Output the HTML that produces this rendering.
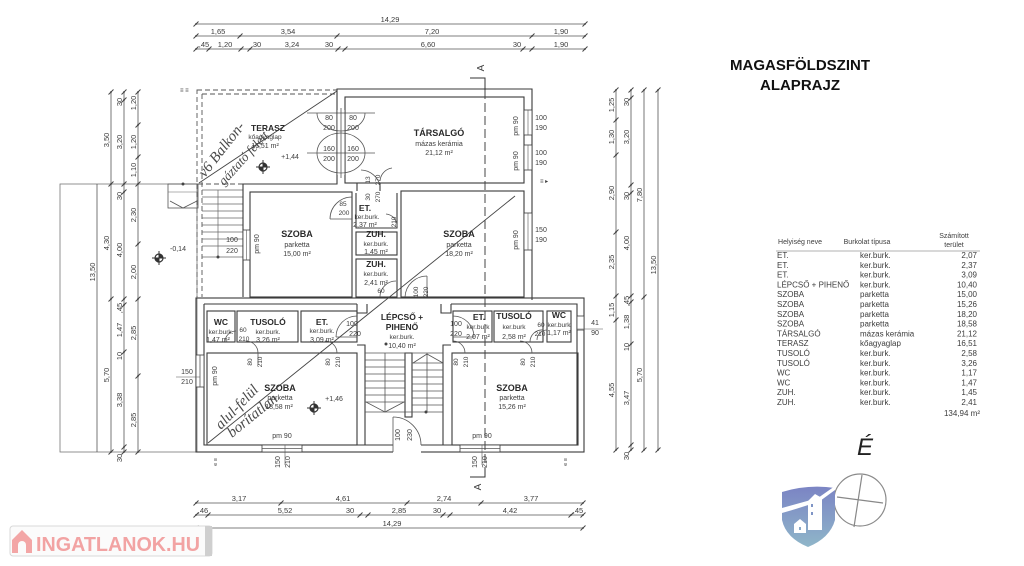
<!DOCTYPE html>
<html><head><meta charset="utf-8">
<style>
html,body{margin:0;padding:0;background:#fff;}
svg{display:block}
text{font-family:"Liberation Sans",sans-serif;fill:#3c3c3c}
.b{font-weight:bold;fill:#2a2a2a}
.w{fill:none;stroke:#3a3a3a;stroke-width:1.1}
.d{fill:none;stroke:#555;stroke-width:0.8}
.hw{font-family:"Liberation Serif",serif;font-style:italic;fill:#4a4a4a}
</style></head><body>
<svg width="1024" height="566" viewBox="0 0 1024 566" xmlns="http://www.w3.org/2000/svg">
<defs>
<g id="k"><path d="M-2.5,2.5 L2.5,-2.5" stroke="#444" stroke-width="1"/><circle r="0.9" fill="#444"/></g>
<g id="el"><circle r="4" fill="none" stroke="#333" stroke-width="1.2"/><path d="M-7,0H7M0,-7V7" stroke="#333" stroke-width="1"/><path d="M0,0V-4A4,4 0 0 1 4,0Z M0,0V4A4,4 0 0 1 -4,0Z" fill="#333"/></g>
<linearGradient id="sg" x1="0" y1="0" x2="0" y2="1"><stop offset="0" stop-color="#7b84c4"/><stop offset="1" stop-color="#8fb6c9"/></linearGradient>
</defs>

<!-- TOP DIMENSIONS -->
<g stroke="#555" stroke-width="0.8">
<line x1="196" y1="24" x2="585" y2="24"/>
<line x1="196" y1="36" x2="585" y2="36"/>
<line x1="196" y1="49" x2="585" y2="49"/>
</g>
<use href="#k" x="196" y="24"/><use href="#k" x="585" y="24"/>
<use href="#k" x="196" y="36"/><use href="#k" x="240" y="36"/><use href="#k" x="337" y="36"/><use href="#k" x="532" y="36"/><use href="#k" x="585" y="36"/>
<use href="#k" x="196" y="49"/><use href="#k" x="209" y="49"/><use href="#k" x="241" y="49"/><use href="#k" x="250" y="49"/><use href="#k" x="338" y="49"/><use href="#k" x="345" y="49"/><use href="#k" x="523" y="49"/><use href="#k" x="532" y="49"/><use href="#k" x="585" y="49"/>
<g font-size="7.5" text-anchor="middle">
<text x="390" y="22">14,29</text>
<text x="218" y="34">1,65</text><text x="288" y="34">3,54</text><text x="432" y="34">7,20</text><text x="561" y="34">1,90</text>
<text x="204" y="47">,45</text><text x="225" y="47">1,20</text><text x="257" y="47">30</text><text x="292" y="47">3,24</text><text x="329" y="47">30</text><text x="428" y="47">6,60</text><text x="517" y="47">30</text><text x="561" y="47">1,90</text>
</g>

<!-- LEFT DIMENSIONS -->
<g stroke="#555" stroke-width="0.8">
<rect x="60" y="184" width="137" height="268" fill="none" stroke="#777"/>
<line x1="97" y1="184" x2="97" y2="452"/>
<line x1="111" y1="92" x2="111" y2="452"/>
<line x1="124" y1="92" x2="124" y2="452"/>
<line x1="138" y1="92" x2="138" y2="452"/>
</g>
<use href="#k" x="111" y="92"/><use href="#k" x="111" y="184"/><use href="#k" x="111" y="299"/><use href="#k" x="111" y="452"/>
<use href="#k" x="124" y="92"/><use href="#k" x="124" y="100"/><use href="#k" x="124" y="184"/><use href="#k" x="124" y="192"/><use href="#k" x="124" y="299"/><use href="#k" x="124" y="305"/><use href="#k" x="124" y="352"/><use href="#k" x="124" y="447"/><use href="#k" x="124" y="452"/>
<use href="#k" x="138" y="92"/><use href="#k" x="138" y="125"/><use href="#k" x="138" y="157"/><use href="#k" x="138" y="184"/><use href="#k" x="138" y="244"/><use href="#k" x="138" y="299"/><use href="#k" x="138" y="376"/><use href="#k" x="138" y="452"/>
<g font-size="7.5" text-anchor="middle">
<text transform="translate(95,272) rotate(-90)" fill="#666">13,50</text>
<text transform="translate(109,140) rotate(-90)">3,50</text>
<text transform="translate(109,243) rotate(-90)">4,30</text>
<text transform="translate(109,375) rotate(-90)">5,70</text>
<text transform="translate(122,102) rotate(-90)">30</text>
<text transform="translate(122,142) rotate(-90)">3,20</text>
<text transform="translate(122,196) rotate(-90)">30</text>
<text transform="translate(122,250) rotate(-90)">4,00</text>
<text transform="translate(122,308) rotate(-90)">,45</text>
<text transform="translate(122,330) rotate(-90)">1,47</text>
<text transform="translate(122,356) rotate(-90)">10</text>
<text transform="translate(122,400) rotate(-90)">3,38</text>
<text transform="translate(122,458) rotate(-90)">30</text>
<text transform="translate(136,103) rotate(-90)" fill="#777">1,20</text>
<text transform="translate(136,142) rotate(-90)" fill="#777">1,20</text>
<text transform="translate(136,170) rotate(-90)" fill="#888">1,10</text>
<text transform="translate(136,215) rotate(-90)" fill="#888">2,30</text>
<text transform="translate(136,272) rotate(-90)" fill="#888">2,00</text>
<text transform="translate(136,333) rotate(-90)">2,85</text>
<text transform="translate(136,420) rotate(-90)">2,85</text>
</g>

<!-- RIGHT DIMENSIONS -->
<g stroke="#555" stroke-width="0.8">
<line x1="616" y1="90" x2="616" y2="450"/>
<line x1="631" y1="90" x2="631" y2="450"/>
<line x1="644" y1="90" x2="644" y2="450"/>
<line x1="658" y1="90" x2="658" y2="450"/>
</g>
<use href="#k" x="616" y="90"/><use href="#k" x="616" y="120"/><use href="#k" x="616" y="155"/><use href="#k" x="616" y="232"/><use href="#k" x="616" y="296"/><use href="#k" x="616" y="320"/><use href="#k" x="616" y="450"/>
<use href="#k" x="631" y="90"/><use href="#k" x="631" y="98"/><use href="#k" x="631" y="185"/><use href="#k" x="631" y="193"/><use href="#k" x="631" y="296"/><use href="#k" x="631" y="302"/><use href="#k" x="631" y="344"/><use href="#k" x="631" y="445"/><use href="#k" x="631" y="450"/>
<use href="#k" x="644" y="90"/><use href="#k" x="644" y="297"/><use href="#k" x="644" y="450"/>
<use href="#k" x="658" y="90"/><use href="#k" x="658" y="450"/>
<g font-size="7.5" text-anchor="middle">
<text transform="translate(614,105) rotate(-90)" fill="#777">1,25</text>
<text transform="translate(614,137) rotate(-90)" fill="#777">1,30</text>
<text transform="translate(614,193) rotate(-90)" fill="#777">2,90</text>
<text transform="translate(614,262) rotate(-90)" fill="#777">2,35</text>
<text transform="translate(614,310) rotate(-90)">1,15</text>
<text transform="translate(614,390) rotate(-90)">4,55</text>
<text transform="translate(629,102) rotate(-90)">30</text>
<text transform="translate(629,137) rotate(-90)" fill="#777">3,20</text>
<text transform="translate(629,196) rotate(-90)">30</text>
<text transform="translate(629,243) rotate(-90)">4,00</text>
<text transform="translate(629,301) rotate(-90)">,45</text>
<text transform="translate(629,322) rotate(-90)">1,38</text>
<text transform="translate(629,347) rotate(-90)">10</text>
<text transform="translate(629,398) rotate(-90)">3,47</text>
<text transform="translate(629,456) rotate(-90)">30</text>
<text transform="translate(642,195) rotate(-90)">7,80</text>
<text transform="translate(642,375) rotate(-90)">5,70</text>
<text transform="translate(656,265) rotate(-90)">13,50</text>
</g>

<!-- BOTTOM DIMENSIONS -->
<g stroke="#555" stroke-width="0.8">
<line x1="196" y1="503" x2="583" y2="503"/>
<line x1="196" y1="515" x2="583" y2="515"/>
<line x1="196" y1="528" x2="583" y2="528"/>
</g>
<use href="#k" x="196" y="503"/><use href="#k" x="281" y="503"/><use href="#k" x="407" y="503"/><use href="#k" x="481" y="503"/><use href="#k" x="583" y="503"/>
<use href="#k" x="196" y="515"/><use href="#k" x="208" y="515"/><use href="#k" x="360" y="515"/><use href="#k" x="368" y="515"/><use href="#k" x="443" y="515"/><use href="#k" x="450" y="515"/><use href="#k" x="571" y="515"/><use href="#k" x="583" y="515"/>
<use href="#k" x="196" y="528"/><use href="#k" x="583" y="528"/>
<g font-size="7.5" text-anchor="middle">
<text x="239" y="501">3,17</text><text x="343" y="501">4,61</text><text x="444" y="501">2,74</text><text x="531" y="501">3,77</text>
<text x="203" y="513">,46</text><text x="285" y="513">5,52</text><text x="350" y="513">30</text><text x="399" y="513">2,85</text><text x="437" y="513">30</text><text x="510" y="513">4,42</text><text x="578" y="513">,45</text>
<text x="392" y="526">14,29</text>
</g>

<!-- TERRACE -->
<rect x="197" y="90" width="140" height="94" fill="none" stroke="#555" stroke-width="0.9" stroke-dasharray="5,3"/>
<line x1="202" y1="94" x2="202" y2="297" stroke="#555" stroke-width="0.9" stroke-dasharray="5,3"/>
<line x1="197" y1="184" x2="197" y2="297" stroke="#555" stroke-width="0.9" stroke-dasharray="5,3"/>
<line x1="202" y1="94" x2="337" y2="94" stroke="#555" stroke-width="0.9" stroke-dasharray="5,3"/>
<text x="180" y="92" font-size="6">≡ ≡</text>
<!-- terrace stair treads -->
<g stroke="#666" stroke-width="0.7">
<line x1="202" y1="190" x2="243" y2="190"/><line x1="202" y1="197" x2="243" y2="197"/><line x1="202" y1="204" x2="243" y2="204"/><line x1="202" y1="211" x2="243" y2="211"/><line x1="202" y1="218" x2="243" y2="218"/><line x1="202" y1="225" x2="243" y2="225"/><line x1="202" y1="232" x2="243" y2="232"/><line x1="202" y1="239" x2="243" y2="239"/><line x1="202" y1="246" x2="243" y2="246"/>
<line x1="202" y1="257" x2="243" y2="257"/>
<line x1="218" y1="190" x2="218" y2="257"/>
</g>
<circle cx="218" cy="257" r="1.5" fill="#444"/>
<!-- outside stair -->
<rect x="168" y="184" width="30" height="24" fill="none" stroke="#555" stroke-width="0.8"/>
<path d="M170,201 L183,208 L197,201" class="d"/>
<circle cx="183" cy="184" r="1.5" fill="#444"/>
<line x1="168" y1="192" x2="198" y2="192" stroke="#666" stroke-width="0.6"/>

<!-- UPPER WALLS -->
<path d="M243,297 V184 H337 V89 H532 V300" class="w"/>
<rect x="345" y="97" width="179" height="86" class="w"/>
<rect x="250" y="192" width="102" height="105" class="w"/>
<rect x="401" y="191" width="123" height="106" class="w"/>
<path d="M357,183 V191 M380,183 V191" class="w"/>
<path d="M356,193 V228 H397 V193" class="w"/>
<rect x="356" y="232" width="41" height="23" class="w"/>
<rect x="356" y="259" width="41" height="38" class="w"/>
<!-- windows upper -->
<g fill="#fff" stroke="#3a3a3a" stroke-width="0.8">
<rect x="524" y="110" width="8" height="25"/><rect x="524" y="145" width="8" height="25"/>
<rect x="524" y="213" width="8" height="37"/>
<rect x="243" y="230" width="7" height="30"/>
</g>
<g stroke="#555" stroke-width="0.6"><line x1="528" y1="110" x2="528" y2="135"/><line x1="528" y1="145" x2="528" y2="170"/><line x1="528" y1="213" x2="528" y2="250"/><line x1="246.5" y1="230" x2="246.5" y2="260"/></g>
<text x="540" y="183" font-size="6">≡ ▸</text>

<!-- terrace doors -->
<rect x="337" y="110" width="8" height="65" fill="#fff"/>
<g class="d">
<line x1="307" y1="113" x2="375" y2="113"/>
<line x1="307" y1="153" x2="375" y2="153"/>
<path d="M317,113 A24,18 0 0 0 365,113"/>
<path d="M317,153 A24,20 0 0 1 365,153"/>
<path d="M317,153 A24,20 0 0 0 365,153"/>
<line x1="341" y1="108" x2="341" y2="178"/>
<path d="M337,110 V175 M345,110 V175" stroke="#3a3a3a"/>
</g>
<g font-size="7" text-anchor="middle">
<text x="329" y="120">80</text><text x="353" y="120">80</text>
<text x="329" y="130">200</text><text x="353" y="130">200</text>
<text x="329" y="151">160</text><text x="353" y="151">160</text>
<text x="329" y="161">200</text><text x="353" y="161">200</text>
</g>
<!-- small upper doors -->
<g class="d">
<path d="M361,170 A20,20 0 0 1 380,186"/>
<path d="M392,168 A14,14 0 0 0 380,181"/>
<path d="M330,219 A22,22 0 0 1 352,197"/><line x1="330" y1="219" x2="352" y2="219"/>
<path d="M386,214 A12,12 0 0 1 397,226"/>
<path d="M405,297 A22,22 0 0 1 427,276"/><line x1="427" y1="276" x2="427" y2="297"/>
<path d="M380,297 A16,16 0 0 1 396,281"/>
</g>
<g font-size="6.5" text-anchor="middle">
<text transform="translate(370,180) rotate(-90)">13</text><text transform="translate(380,180) rotate(-90)">270</text>
<text transform="translate(370,197) rotate(-90)">30</text><text transform="translate(380,197) rotate(-90)">270</text>
<text x="343" y="206">85</text><text x="344" y="215" fill="#666">200</text>
<text transform="translate(396,222) rotate(-90)">210</text>
<text transform="translate(418,292) rotate(-90)">100</text><text transform="translate(428,292) rotate(-90)">220</text>
<text x="381" y="293" fill="#555">60</text>
</g>

<!-- LOWER BLOCK -->
<rect x="196" y="298" width="388" height="154" class="w"/>
<path d="M204,304 H357 M451,304 H577 V445 H204 V304" class="w"/>
<path d="M357,304 V313 H367 V304 M441,304 V313 H451 V304" class="w"/>
<rect x="207" y="311" width="28" height="31" class="w"/>
<rect x="237" y="311" width="61" height="31" class="w"/>
<rect x="301" y="311" width="56" height="31" class="w"/>
<rect x="453" y="311" width="39" height="31" class="w"/>
<rect x="494" y="311" width="49" height="31" class="w"/>
<rect x="547" y="311" width="24" height="31" class="w"/>
<rect x="207" y="353" width="150" height="92" class="w"/>
<rect x="452" y="353" width="126" height="92" class="w"/>
<path d="M357,345 H365 V445 M451,345 H443 V445" class="w"/>
<rect x="405" y="353" width="7" height="64" class="w"/>
<!-- stairs -->
<g stroke="#555" stroke-width="0.8">
<line x1="365" y1="353" x2="443" y2="353"/>
<line x1="365" y1="360" x2="405" y2="360"/><line x1="365" y1="367" x2="405" y2="367"/><line x1="365" y1="374" x2="405" y2="374"/><line x1="365" y1="381" x2="405" y2="381"/><line x1="365" y1="388" x2="405" y2="388"/><line x1="365" y1="395" x2="405" y2="395"/><line x1="365" y1="402" x2="405" y2="402"/>
<line x1="412" y1="363" x2="443" y2="363"/><line x1="412" y1="370" x2="443" y2="370"/><line x1="412" y1="377" x2="443" y2="377"/><line x1="412" y1="384" x2="443" y2="384"/><line x1="412" y1="391" x2="443" y2="391"/><line x1="412" y1="398" x2="443" y2="398"/><line x1="412" y1="405" x2="443" y2="405"/>
<line x1="365" y1="412" x2="443" y2="412"/>
<line x1="385" y1="353" x2="385" y2="412"/><line x1="427" y1="353" x2="427" y2="412"/>
</g>
<path d="M366,402 L385,412 L404,402" class="d"/>
<path d="M413,363 L427,354 L443,363" class="d"/>
<circle cx="386" cy="344" r="1.5" fill="#444"/><circle cx="426" cy="412" r="1.5" fill="#444"/>
<!-- windows/doors lower -->
<g fill="#fff" stroke="#3a3a3a" stroke-width="0.8">
<rect x="262" y="445" width="40" height="7"/><rect x="460" y="445" width="40" height="7"/>
<rect x="196" y="355" width="8" height="32"/>
<rect x="577" y="316" width="7" height="14"/>
</g>
<rect x="393" y="444" width="28" height="9" fill="#fff"/>
<g class="d">
<line x1="262" y1="448.5" x2="302" y2="448.5"/><line x1="460" y1="448.5" x2="500" y2="448.5"/>
<line x1="200" y1="355" x2="200" y2="387"/>
<line x1="393" y1="417" x2="393" y2="452"/><path d="M393,417 A28,28 0 0 1 421,445"/>
<path d="M357,316 A21,21 0 0 0 336,337"/><line x1="336" y1="337" x2="357" y2="337"/>
<path d="M453,316 A21,21 0 0 1 474,337"/><line x1="453" y1="337" x2="474" y2="337"/>
<path d="M225,342 A11,11 0 0 1 236,331"/>
<path d="M530,342 A12,12 0 0 1 543,330"/>
<path d="M547,330 A10,10 0 0 0 537,340"/>
<path d="M258,353 A12,12 0 0 0 246,341"/><path d="M258,353 V365"/>
<path d="M337,353 A12,12 0 0 0 325,341"/>
<path d="M465,353 A12,12 0 0 0 453,341"/>
<path d="M532,353 A12,12 0 0 0 520,341"/>
</g>
<g font-size="6.5" text-anchor="middle" fill="#555">
<text x="243" y="332">60</text><text x="244" y="341">210</text>
<text x="541" y="327">60</text><text x="540" y="336">210</text>
<text transform="translate(252,362) rotate(-90)">80</text><text transform="translate(262,362) rotate(-90)">210</text>
<text transform="translate(330,362) rotate(-90)">80</text><text transform="translate(340,362) rotate(-90)">210</text>
<text transform="translate(458,362) rotate(-90)">80</text><text transform="translate(468,362) rotate(-90)">210</text>
<text transform="translate(525,362) rotate(-90)">80</text><text transform="translate(535,362) rotate(-90)">210</text>
</g>

<!-- section line A -->
<path d="M470,78 H485 V90" stroke="#333" stroke-width="1" fill="none"/>
<line x1="485" y1="90" x2="485" y2="470" stroke="#444" stroke-width="1" stroke-dasharray="9,4"/>
<path d="M470,477 H485 V468" stroke="#333" stroke-width="1" fill="none"/>
<text transform="translate(484,68) rotate(-90)" font-size="10" text-anchor="middle">A</text>
<text transform="translate(481,487) rotate(-90)" font-size="10" text-anchor="middle">A</text>

<!-- diagonal cross-out lines -->
<line x1="199" y1="183" x2="337" y2="91" stroke="#444" stroke-width="0.9"/>
<line x1="208" y1="443" x2="515" y2="196" stroke="#444" stroke-width="0.9"/>

<!-- ROOM LABELS -->
<g text-anchor="middle">
<text x="268" y="131" font-size="8.5" class="b">TERASZ</text>
<text x="265" y="139" font-size="6.5">kőagyaglap</text>
<text x="265" y="148" font-size="7">16,51 m²</text>
<text x="439" y="136" font-size="9" class="b">TÁRSALGÓ</text>
<text x="439" y="146" font-size="7">mázas kerámia</text>
<text x="439" y="155" font-size="7">21,12 m²</text>
<text x="297" y="237" font-size="9" class="b">SZOBA</text>
<text x="297" y="247" font-size="7">parketta</text>
<text x="297" y="256" font-size="7">15,00 m²</text>
<text x="459" y="237" font-size="9" class="b">SZOBA</text>
<text x="459" y="247" font-size="7">parketta</text>
<text x="459" y="256" font-size="7">18,20 m²</text>
<text x="365" y="211" font-size="8.5" class="b">ET.</text>
<text x="367" y="219" font-size="6.5">ker.burk.</text>
<text x="365" y="227" font-size="7">2,37 m²</text>
<text x="376" y="237" font-size="8.5" class="b">ZUH.</text>
<text x="376" y="246" font-size="6.5">ker.burk.</text>
<text x="376" y="254" font-size="7" fill="#666">1,45 m²</text>
<text x="376" y="267" font-size="8.5" class="b">ZUH.</text>
<text x="376" y="276" font-size="6.5">ker.burk.</text>
<text x="376" y="285" font-size="7">2,41 m²</text>
<text x="221" y="325" font-size="8.5" class="b">WC</text>
<text x="221" y="334" font-size="6.5">ker.burk.</text>
<text x="218" y="342" font-size="7">1,47 m²</text>
<text x="268" y="325" font-size="8.5" class="b">TUSOLÓ</text>
<text x="268" y="334" font-size="6.5">ker.burk.</text>
<text x="268" y="342" font-size="7">3,26 m²</text>
<text x="322" y="325" font-size="8.5" class="b">ET.</text>
<text x="322" y="333" font-size="6.5">ker.burk.</text>
<text x="322" y="342" font-size="7">3,09 m²</text>
<text x="402" y="320" font-size="8.5" class="b">LÉPCSŐ +</text>
<text x="402" y="330" font-size="8.5" class="b">PIHENŐ</text>
<text x="402" y="339" font-size="6.5">ker.burk.</text>
<text x="402" y="348" font-size="7" fill="#666">10,40 m²</text>
<text x="479" y="320" font-size="8.5" class="b">ET.</text>
<text x="478" y="329" font-size="6.5">ker.burk</text>
<text x="478" y="339" font-size="7">2,07 m²</text>
<text x="514" y="319" font-size="8.5" class="b">TUSOLÓ</text>
<text x="514" y="329" font-size="6.5">ker.burk</text>
<text x="514" y="339" font-size="7">2,58 m²</text>
<text x="559" y="318" font-size="8.5" class="b">WC</text>
<text x="559" y="327" font-size="6.5">ker.burk</text>
<text x="559" y="335" font-size="7">1,17 m²</text>
<text x="280" y="391" font-size="9" class="b">SZOBA</text>
<text x="280" y="400" font-size="7">parketta</text>
<text x="279" y="409" font-size="7">18,58 m²</text>
<text x="512" y="391" font-size="9" class="b">SZOBA</text>
<text x="512" y="400" font-size="7">parketta</text>
<text x="512" y="409" font-size="7">15,26 m²</text>
</g>
<!-- misc plan labels -->
<g font-size="7" text-anchor="middle">
<text transform="translate(518,126) rotate(-90)">pm 90</text>
<text transform="translate(518,161) rotate(-90)">pm 90</text>
<text transform="translate(518,240) rotate(-90)">pm 90</text>
<text transform="translate(259,244) rotate(-90)">pm 90</text>
<text transform="translate(217,376) rotate(-90)">pm 90</text>
<text x="282" y="438">pm 90</text><text x="482" y="438">pm 90</text>
<text x="541" y="120">100</text><text x="541" y="130">190</text>
<text x="541" y="155">100</text><text x="541" y="165">190</text>
<text x="541" y="232">150</text><text x="541" y="242">190</text>
<text x="232" y="242" fill="#888">100</text><text x="232" y="253" fill="#888">220</text>
<text x="187" y="374">150</text><text x="187" y="384">210</text>
<text x="595" y="325">41</text><text x="595" y="335">90</text>
<text x="352" y="326">100</text><text x="355" y="336">220</text>
<text x="456" y="326">100</text><text x="456" y="336">220</text>
<text transform="translate(280,462) rotate(-90)">150</text><text transform="translate(290,462) rotate(-90)">210</text>
<text transform="translate(477,462) rotate(-90)">150</text><text transform="translate(487,462) rotate(-90)">210</text>
<text transform="translate(400,435) rotate(-90)">100</text><text transform="translate(412,435) rotate(-90)">230</text>
<text x="178" y="251">-0,14</text>
<text x="290" y="159">+1,44</text>
<text x="334" y="401">+1,46</text>
<text transform="translate(217,462) rotate(-90)" font-size="5.5">e ≡</text>
<text transform="translate(567,462) rotate(-90)" font-size="5.5">e ≡</text>
</g>
<line x1="176" y1="377" x2="200" y2="377" stroke="#555" stroke-width="0.6"/>
<line x1="285" y1="445" x2="285" y2="465" stroke="#555" stroke-width="0.6"/>
<line x1="482" y1="445" x2="482" y2="465" stroke="#555" stroke-width="0.6"/>
<line x1="577" y1="329" x2="603" y2="329" stroke="#555" stroke-width="0.6"/>
<use href="#el" x="159" y="258"/>
<use href="#el" x="263" y="167"/>
<use href="#el" x="314" y="408"/>

<!-- handwriting -->
<text class="hw" font-size="15" transform="translate(205,178) rotate(-52)">v6 Balkon-</text>
<text class="hw" font-size="13" transform="translate(224,186) rotate(-48)">gáztató felett</text>
<text class="hw" font-size="15" transform="translate(221,430) rotate(-46)">alul-felül</text>
<text class="hw" font-size="15" transform="translate(232,438) rotate(-39)">borítatlan</text>

<!-- RIGHT PANEL -->
<g text-anchor="middle" font-size="15" font-weight="bold">
<text x="800" y="70" style="fill:#111">MAGASFÖLDSZINT</text>
<text x="800" y="90" style="fill:#111">ALAPRAJZ</text>
</g>
<g font-size="7">
<text x="800" y="244" text-anchor="middle">Helyiség neve</text>
<text x="867" y="244" text-anchor="middle">Burkolat típusa</text>
<text x="954" y="238" text-anchor="middle">Számított</text>
<text x="954" y="247" text-anchor="middle">terület</text>
</g>
<line x1="776" y1="251" x2="980" y2="251" stroke="#999" stroke-width="0.8"/>
<g font-size="8">
<text x="777" y="258">ET.</text><text x="860" y="258">ker.burk.</text><text x="977" y="258" text-anchor="end">2,07</text>
<text x="777" y="267.8">ET.</text><text x="860" y="267.8">ker.burk.</text><text x="977" y="267.8" text-anchor="end">2,37</text>
<text x="777" y="277.6">ET.</text><text x="860" y="277.6">ker.burk.</text><text x="977" y="277.6" text-anchor="end">3,09</text>
<text x="777" y="287.4">LÉPCSŐ + PIHENŐ</text><text x="860" y="287.4">ker.burk.</text><text x="977" y="287.4" text-anchor="end">10,40</text>
<text x="777" y="297.2">SZOBA</text><text x="860" y="297.2">parketta</text><text x="977" y="297.2" text-anchor="end">15,00</text>
<text x="777" y="307">SZOBA</text><text x="860" y="307">parketta</text><text x="977" y="307" text-anchor="end">15,26</text>
<text x="777" y="316.8">SZOBA</text><text x="860" y="316.8">parketta</text><text x="977" y="316.8" text-anchor="end">18,20</text>
<text x="777" y="326.6">SZOBA</text><text x="860" y="326.6">parketta</text><text x="977" y="326.6" text-anchor="end">18,58</text>
<text x="777" y="336.4">TÁRSALGÓ</text><text x="860" y="336.4">mázas kerámia</text><text x="977" y="336.4" text-anchor="end">21,12</text>
<text x="777" y="346.2">TERASZ</text><text x="860" y="346.2">kőagyaglap</text><text x="977" y="346.2" text-anchor="end">16,51</text>
<text x="777" y="356">TUSOLÓ</text><text x="860" y="356">ker.burk.</text><text x="977" y="356" text-anchor="end">2,58</text>
<text x="777" y="365.8">TUSOLÓ</text><text x="860" y="365.8">ker.burk.</text><text x="977" y="365.8" text-anchor="end">3,26</text>
<text x="777" y="375.6">WC</text><text x="860" y="375.6">ker.burk.</text><text x="977" y="375.6" text-anchor="end">1,17</text>
<text x="777" y="385.4">WC</text><text x="860" y="385.4">ker.burk.</text><text x="977" y="385.4" text-anchor="end">1,47</text>
<text x="777" y="395.2">ZUH.</text><text x="860" y="395.2">ker.burk.</text><text x="977" y="395.2" text-anchor="end">1,45</text>
<text x="777" y="405">ZUH.</text><text x="860" y="405">ker.burk.</text><text x="977" y="405" text-anchor="end">2,41</text>
<text x="980" y="416" text-anchor="end">134,94 m²</text>
</g>

<!-- North -->
<text x="857" y="455" font-size="24" font-style="italic" style="fill:#222">É</text>
<circle cx="860" cy="500" r="26" fill="none" stroke="#8a8a8a" stroke-width="1.2"/>
<line x1="862" y1="475" x2="854" y2="527" stroke="#888" stroke-width="1.2"/>
<line x1="837" y1="497" x2="883" y2="503" stroke="#888" stroke-width="1.2"/>
<!-- shield logo -->
<path d="M782,492 Q808,484 835,488 V520 Q830,538 808,547 Q786,538 782,520 Z" fill="url(#sg)"/>
<path d="M782,508 Q800,503 818,498 L835,486 V490 L820,501 Q800,508 782,513 Z" fill="#fff"/>
<path d="M808,530 V501 L815,494 L822,498 V530 Z" fill="#fff"/>
<path d="M794,533 V524 L800,519 L806,524 V533 Z" fill="#fff"/>
<rect x="811" y="504" width="2" height="3" fill="#7f95c6"/><rect x="811" y="512" width="2" height="3" fill="#7f95c6"/><rect x="799" y="527" width="2" height="3" fill="#8aa8c8"/>

<!-- watermark -->
<rect x="10" y="526" width="202" height="30" rx="3" fill="#fbfbfb" stroke="#d8d8d8" stroke-width="1"/>
<rect x="205" y="526" width="7" height="30" fill="#cfcfcf"/>
<path d="M12,540 L22,530 L32,540 V553 H12 Z" fill="#f3a6a6"/>
<path d="M18,553 V545 A4,4 0 0 1 26,545 V553 Z" fill="#fbfbfb"/>
<text x="36" y="551" font-size="20" font-weight="bold" textLength="164" lengthAdjust="spacingAndGlyphs" style="fill:#f2a3a3">INGATLANOK.HU</text>
</svg>
</body></html>
